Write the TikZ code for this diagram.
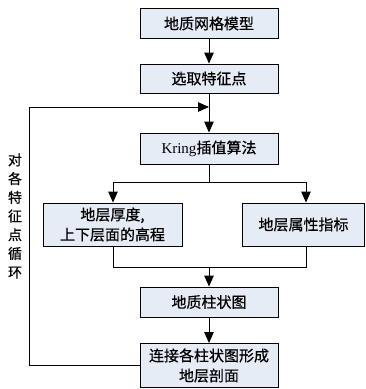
\documentclass[tikz,border=0pt]{standalone}
\usepackage{fontspec}
\setmainfont{Liberation Serif}
\newfontfamily\cjk[FakeBold=0.6]{Noto Sans CJK SC}
\usetikzlibrary{arrows.meta}
\definecolor{boxfill}{HTML}{E6ECF6}
\begin{document}
\begin{tikzpicture}[x=1pt,y=-1pt,
  box/.style={draw=black,line width=0.9pt,fill=boxfill,inner sep=0pt,align=center,
    font=\fontsize{15}{20}\selectfont\cjk},
  conn/.style={line width=0.9pt},
  arr/.style={line width=0.9pt,-{Triangle[length=11pt,width=9.5pt]}}]
\useasboundingbox (0,0) rectangle (366,389);
\node[box,minimum width=138pt,minimum height=30pt] (b1) at (209,23.5) {地质网格模型};
\node[box,minimum width=138pt,minimum height=29pt] (b2) at (209,78.5) {选取特征点};
\node[box,minimum width=138pt,minimum height=31pt] (b3) at (209,148.5) {{\rmfamily Kring}插值算法};
\node[box,minimum width=139pt,minimum height=43pt] (b4) at (112.5,224.5) {地层厚度,\\上下层面的高程};
\node[box,minimum width=122pt,minimum height=43pt] (b5) at (303.5,224.5) {地层属性指标};
\node[box,minimum width=138pt,minimum height=30pt] (b6) at (209,302) {地质柱状图};
\node[box,minimum width=138pt,minimum height=44pt] (b7) at (209,365.5) {连接各柱状图形成\\地层剖面};
\node[font=\fontsize{14}{18.7}\selectfont\cjk,align=center,inner sep=0pt] (lbl) at (15,216) {对\\各\\特\\征\\点\\循\\环};
\coordinate (loopL) at (29,365);
\coordinate (loopT) at (29,107);
\coordinate (loopM) at (209,107);
\coordinate (sp) at (209,182);
\coordinate (spL) at (113,182);
\coordinate (spR) at (306,182);
\coordinate (jn) at (209,267);
\coordinate (jnL) at (113,267);
\coordinate (jnR) at (306,267);
\draw[arr] (b1) -- (b2);
\draw[arr] (b2) -- (b3);
\draw[arr] (b7.west |- loopL) -- (loopL) -- (loopT) -- (loopM);
\draw[conn] (b3) -- (sp);
\draw[conn] (spL) -- (spR);
\draw[arr] (spL) -- (spL |- b4.north);
\draw[arr] (spR) -- (spR |- b5.north);
\draw[conn] (jnL |- b4.south) -- (jnL) -- (jnR) -- (jnR |- b5.south);
\draw[arr] (jn) -- (b6);
\draw[arr] (b6) -- (b7);
\end{tikzpicture}
\end{document}
